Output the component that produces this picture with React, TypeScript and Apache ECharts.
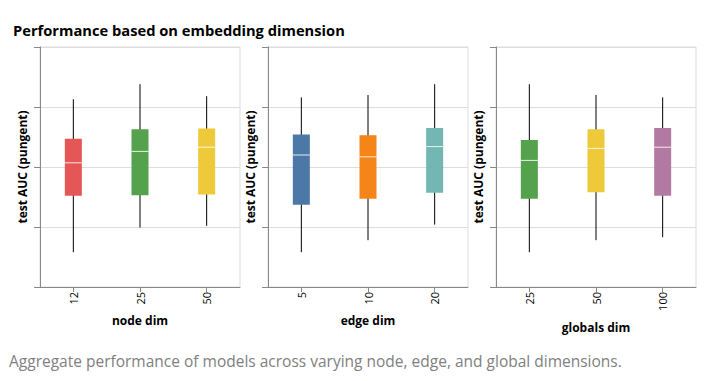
import React, { useEffect, useRef } from "react";
import * as echarts from "echarts";

// categories
const nodeDims = ["12", "25", "50"];
const edgeDims = ["5", "10", "20"];
const globalDims = ["25", "50", "100"];

// box stats: [min, q1, median, q3, max] of test AUC
const nodeStats = [
  [0.558, 0.652, 0.707, 0.747, 0.813],
  [0.599, 0.653, 0.726, 0.763, 0.838],
  [0.602, 0.654, 0.733, 0.764, 0.818],
];
const edgeStats = [
  [0.558, 0.637, 0.72, 0.754, 0.816],
  [0.578, 0.647, 0.717, 0.753, 0.82],
  [0.604, 0.657, 0.734, 0.765, 0.838],
];
const globalStats = [
  [0.558, 0.647, 0.711, 0.745, 0.838],
  [0.578, 0.658, 0.731, 0.763, 0.82],
  [0.583, 0.652, 0.733, 0.765, 0.816],
];

const nodeColors = ["#e45756", "#54a24b", "#eeca3b"];
const edgeColors = ["#4c78a8", "#f58518", "#72b7b2"];
const globalColors = ["#54a24b", "#eeca3b", "#b279a2"];

const axisNames = ["node dim", "edge dim", "globals dim"];
const yName = "test AUC (pungent)";
const titleText = "Performance based on embedding dimension";
const captionText =
  "Aggregate performance of models across varying node, edge, and global dimensions.";

const FONT = "'Open Sans', 'Noto Sans', sans-serif";

export default function App() {
  const ref = useRef<HTMLDivElement>(null);
  useEffect(() => {
    if (!ref.current) return;
    const chart = echarts.init(ref.current, undefined, { renderer: "svg" });
    const panels = [
      { cats: nodeDims, stats: nodeStats, colors: nodeColors },
      { cats: edgeDims, stats: edgeStats, colors: edgeColors },
      { cats: globalDims, stats: globalStats, colors: globalColors },
    ];
    const lefts = [40, 268, 496];
    const nameGaps = [27, 27, 34];
    const grids = lefts.map((l) => ({
      left: l,
      top: 47,
      width: 200,
      height: 240,
      show: true,
      borderColor: "#ddd",
      borderWidth: 1,
      backgroundColor: "transparent",
    }));
    const xAxes = panels.map((p, i) => ({
      type: "category",
      gridIndex: i,
      data: p.cats,
      boundaryGap: true,
      name: axisNames[i],
      nameLocation: "middle",
      nameGap: nameGaps[i],
      nameMoveOverlap: false,
      nameTextStyle: { fontFamily: FONT, fontWeight: "bold", fontSize: 12, color: "#000" },
      axisLine: { show: true, lineStyle: { color: "#888", width: 1 } },
      axisTick: { show: true, alignWithLabel: true, length: 5, lineStyle: { color: "#888" } },
      axisLabel: {
        rotate: 90,
        fontFamily: FONT,
        fontSize: 11,
        color: "#000",
        margin: 5,
      },
      splitLine: { show: false },
    }));
    const yAxes = panels.map((_, i) => ({
      type: "value",
      gridIndex: i,
      min: 0.5,
      max: 0.9,
      interval: 0.1,
      name: yName,
      nameLocation: "middle",
      nameGap: 12,
      nameMoveOverlap: false,
      nameTextStyle: { fontFamily: FONT, fontWeight: "bold", fontSize: 12, color: "#000" },
      axisLine: { show: true, lineStyle: { color: "#888", width: 1 } },
      axisTick: { show: true, length: 6, lineStyle: { color: "#888" } },
      axisLabel: { show: false },
      splitLine: { show: true, lineStyle: { color: "#ddd", width: 1 } },
    }));
    const series = panels.map((p, i) => ({
      type: "custom",
      xAxisIndex: i,
      yAxisIndex: i,
      encode: { x: 0, y: [1, 2, 3, 4, 5] },
      data: p.stats.map((s, j) => [j, ...s]),
      renderItem: (params: any, api: any) => {
        const x = api.value(0);
        const lo = api.coord([x, api.value(1)]);
        const q1 = api.coord([x, api.value(2)]);
        const med = api.coord([x, api.value(3)]);
        const q3 = api.coord([x, api.value(4)]);
        const hi = api.coord([x, api.value(5)]);
        const w = 17;
        const color = p.colors[params.dataIndex];
        return {
          type: "group",
          children: [
            {
              type: "line",
              shape: { x1: lo[0], y1: lo[1], x2: hi[0], y2: hi[1] },
              style: { stroke: "#000", lineWidth: 1 },
            },
            {
              type: "rect",
              shape: { x: q3[0] - w / 2, y: q3[1], width: w, height: q1[1] - q3[1] },
              style: { fill: color, stroke: null },
            },
            {
              type: "line",
              shape: { x1: med[0] - w / 2, y1: med[1], x2: med[0] + w / 2, y2: med[1] },
              style: { stroke: "rgba(255,255,255,0.85)", lineWidth: 1 },
            },
          ],
        };
      },
    }));
    chart.setOption({
      animation: false,
      backgroundColor: "#fff",
      title: {
        text: titleText,
        left: 8,
        top: 17,
        padding: 5,
        textStyle: { fontFamily: FONT, fontWeight: "bold", fontSize: 14.7, color: "#000" },
      },
      graphic: [
        {
          type: "text",
          left: 9,
          top: 353,
          style: {
            text: captionText,
            fontFamily: FONT,
            fontSize: 15.5,
            fill: "#808080",
          },
        },
      ],
      grid: grids,
      xAxis: xAxes,
      yAxis: yAxes,
      series,
    } as any);
    return () => chart.dispose();
  }, []);
  return (
    <div
      ref={ref}
      style={{ position: "fixed", left: 0, top: 0, width: 705, height: 381 }}
    />
  );
}
